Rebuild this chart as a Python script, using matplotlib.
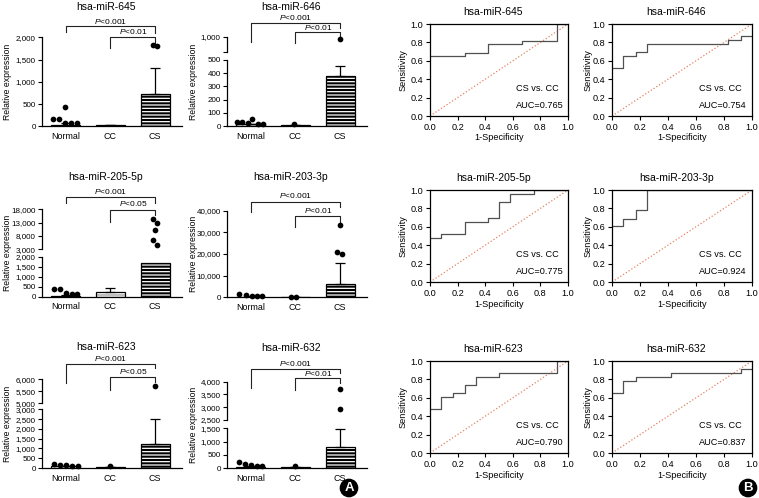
import numpy as np
import matplotlib
matplotlib.use('Agg')
import matplotlib.pyplot as plt
from matplotlib import transforms

plt.rcParams['font.family'] = ['Liberation Sans', 'DejaVu Sans']
plt.rcParams['mathtext.fontset'] = 'custom'
plt.rcParams['mathtext.rm'] = 'Liberation Sans'
plt.rcParams['mathtext.it'] = 'Liberation Sans:italic'
plt.rcParams['hatch.linewidth'] = 0.9

W, H = 759, 498

groups = ['Normal', 'CC', 'CS']

# ---- relative expression (bar = mean, err = upper SEM, dots = single samples)
mean_645 = [40, 25, 730]
err_645 = [25, 8, 570]
normal_645 = [172, 172, 442, 82, 67, 67]
normal_645_dx = [-0.29, -0.15, -0.02, -0.02, 0.11, 0.25]
cc_645 = []
cc_645_dx = []
cs_645 = [1820, 1813]
cs_645_dx = [-0.05, 0.05]

mean_646 = [15, 8, 380]
err_646 = [6, 3, 72]
normal_646 = [35, 33, 28, 52, 20, 18]
normal_646_dx = [-0.3, -0.19, -0.07, 0.04, 0.16, 0.27]
cc_646 = [20]
cc_646_dx = [-0.04]
cs_646 = [980]
cs_646_dx = [-0.01]

mean_205 = [60, 217, 1700]
err_205 = [20, 200, 0]
normal_205 = [383, 383, 167, 133, 117]
normal_205_dx = [-0.26, -0.13, 0.01, 0.13, 0.25]
cc_205 = []
cc_205_dx = []
cs_205 = [14250, 12750, 10250, 6500, 4625]
cs_205_dx = [-0.05, 0.05, 0.0, -0.05, 0.05]

mean_203 = [300, 150, 6150]
err_203 = [150, 50, 9850]
normal_203 = [1400, 1100, 460, 460, 460]
normal_203_dx = [-0.26, -0.11, 0.04, 0.14, 0.25]
cc_203 = [150, 150]
cc_203_dx = [-0.1, 0.01]
cs_203 = [33200, 21100, 20150]
cs_203_dx = [-0.01, -0.07, 0.04]

mean_623 = [80, 50, 1230]
err_623 = [20, 15, 1295]
normal_623 = [188, 170, 137, 120, 85]
normal_623_dx = [-0.27, -0.13, 0.0, 0.15, 0.27]
cc_623 = [100]
cc_623_dx = [0.0]
cs_623 = [5720]
cs_623_dx = [0.0]

mean_632 = [50, 30, 810]
err_632 = [25, 8, 655]
normal_632 = [240, 150, 113, 88, 76]
normal_632_dx = [-0.26, -0.13, 0.0, 0.13, 0.26]
cc_632 = [76]
cc_632_dx = [0.0]
cs_632 = [3700, 2920]
cs_632_dx = [-0.01, 0.0]

# y axis segments (broken axes): lower first
ticks_645 = [0, 500, 1000, 1500, 2000]
ticks_646_low = [0, 100, 200, 300, 400, 500]
ticks_646_up = [850, 1000]
labels_646_up = ['', '1,000']
ticks_205_low = [0, 500, 1000, 1500, 2000]
ticks_205_up = [3000, 8000, 13000, 18000]
ticks_203 = [0, 10000, 20000, 30000, 40000]
ticks_623_low = [0, 500, 1000, 1500, 2000, 2500, 3000]
ticks_623_up = [5000, 5500, 6000]
ticks_632_low = [0, 500, 1000, 1500]
ticks_632_up = [2500, 3000, 3500, 4000]

p_outer = ['$P$<0.001'] * 6
p_inner = ['$P$<0.01', '$P$<0.01', '$P$<0.05', '$P$<0.01', '$P$<0.05', '$P$<0.01']

# ---- ROC curves (CS vs. CC)
roc_ticks = [0.0, 0.2, 0.4, 0.6, 0.8, 1.0]
roc_tick_labels = ['0.0', '0.2', '0.4', '0.6', '0.8', '1.0']
fpr_645 = [0, 0.25, 0.42, 0.67, 0.92, 1.0]
tpr_645 = [0.65, 0.69, 0.78, 0.82, 1.0, 1.0]
fpr_646 = [0, 0.08, 0.17, 0.25, 0.83, 0.92, 1.0]
tpr_646 = [0.52, 0.65, 0.70, 0.78, 0.83, 0.87, 0.87]
fpr_205 = [0, 0.08, 0.25, 0.42, 0.50, 0.58, 0.75, 1.0]
tpr_205 = [0.48, 0.52, 0.65, 0.70, 0.87, 0.96, 1.0, 1.0]
fpr_203 = [0, 0.08, 0.17, 0.25, 1.0]
tpr_203 = [0.61, 0.69, 0.78, 1.0, 1.0]
fpr_623 = [0, 0.08, 0.17, 0.25, 0.33, 0.50, 0.92, 1.0]
tpr_623 = [0.48, 0.61, 0.65, 0.74, 0.83, 0.87, 1.0, 1.0]
fpr_632 = [0, 0.08, 0.17, 0.42, 0.92, 1.0]
tpr_632 = [0.65, 0.78, 0.83, 0.87, 0.91, 0.91]
auc_values = ['0.765', '0.754', '0.775', '0.924', '0.790', '0.837']

fig = plt.figure(figsize=(W / 100, H / 100), dpi=100)


def px_box(l, t, r, b):
    return [l / W, 1 - b / H, (r - l) / W, (b - t) / H]


def fy(py):
    return 1 - py / H


def bar_panel(title, left, right, segs, mean, err, dots, title_y, br):
    x = np.arange(3)
    axes = []
    for i, (ymin, ymax, ticks, labels, top, bot) in enumerate(segs):
        ax = fig.add_axes(px_box(left, top, right, bot))
        ax.set_facecolor('none')
        ax.set_xlim(-0.53, 2.6)
        ax.set_ylim(ymin, ymax)
        for s in ['top', 'right']:
            ax.spines[s].set_visible(False)
        ax.spines['left'].set_linewidth(0.9)
        ax.spines['bottom'].set_linewidth(0.9)
        if labels is None:
            labels = [f'{t:,}' for t in ticks]
        ax.set_yticks(ticks, labels)
        ax.tick_params(axis='y', length=3, width=0.8, labelsize=5.8, pad=1.5)
        if i == 0:
            ax.set_xticks(x, groups)
            ax.tick_params(axis='x', length=0, labelsize=6.4, pad=4)
        else:
            ax.spines['bottom'].set_visible(False)
            ax.set_xticks([])

        ax.bar(x[0], mean[0], 0.65, facecolor='white', edgecolor='black', lw=0.9)
        ax.bar(x[1], mean[1], 0.65, facecolor='white', edgecolor='#999999', hatch='-----', lw=0)
        ax.bar(x[1], mean[1], 0.65, fill=False, edgecolor='black', lw=0.9)
        ax.bar(x[2], mean[2], 0.65, facecolor='black', edgecolor='white', hatch='-----', lw=0)
        ax.bar(x[2], mean[2], 0.65, fill=False, edgecolor='black', lw=0.9)
        for k in range(3):
            if err[k] > 0:
                ax.errorbar(x[k], mean[k], yerr=[[0], [err[k]]], fmt='none', ecolor='black',
                            elinewidth=0.9, capsize=3.5, capthick=0.9)
        for k, (vals, dx) in enumerate(dots):
            xs = [x[k] + d for d, v in zip(dx, vals) if ymin <= v <= ymax]
            ys = [v for v in vals if ymin <= v <= ymax]
            ax.scatter(xs, ys, s=17, color='black', zorder=4, clip_on=False, linewidths=0)
        axes.append(ax)

    ax0 = axes[0]
    trans = transforms.blended_transform_factory(ax0.transData, fig.transFigure)
    ax0.text(0.9, fy(title_y), title, transform=trans, ha='center', va='center', fontsize=7.5)
    # significance brackets: (x0, x1, top, left leg, right leg, label, label y)
    for x0, x1, top, ll, rl, txt, ty in br:
        ax0.plot([x0, x0, x1, x1], [fy(ll), fy(top), fy(top), fy(rl)], transform=trans,
                 color='#222222', lw=0.8, clip_on=False)
        ax0.text((x0 + x1) / 2, fy(ty), txt, transform=trans, ha='center', va='center', fontsize=6)
    top_px = segs[-1][4]
    bot_px = segs[0][5]
    fig.text((left - 34) / W, fy((top_px + bot_px) / 2), 'Relative expression', rotation=90,
             ha='center', va='center', fontsize=6.2)


def roc_panel(title, left, right, top, bottom, fpr, tpr, auc, ylab_x):
    ax = fig.add_axes(px_box(left, top, right, bottom))
    ax.plot([0, 1], [0, 1], ls=':', color='#e3825f', lw=0.9)
    ax.plot(fpr, tpr, drawstyle='steps-post', color='#505050', lw=0.9)
    ax.set_xlim(0, 1)
    ax.set_ylim(0, 1)
    ax.set_xticks(roc_ticks, roc_tick_labels)
    ax.set_yticks(roc_ticks, roc_tick_labels)
    ax.tick_params(length=3, width=0.8, labelsize=6.6, pad=2)
    for s in ax.spines.values():
        s.set_linewidth(0.9)
    ax.text(0.62, 0.30, 'CS vs. CC', transform=ax.transAxes, ha='left', va='center', fontsize=6.6)
    ax.text(0.62, 0.115, 'AUC=' + auc, transform=ax.transAxes, ha='left', va='center', fontsize=6.6)
    ax.text(0.46, 1 + 12 / (bottom - top), title, transform=ax.transAxes, ha='center', va='center',
            fontsize=7.5)
    fig.text((left + right) / 2 / W, fy(bottom + 22), '1-Specificity', ha='center', va='center',
             fontsize=6.6)
    fig.text(ylab_x / W, fy((top + bottom) / 2), 'Sensitivity', rotation=90, ha='center',
             va='center', fontsize=6.6)


# ---- left block (A)
bar_panel('hsa-miR-645', 42, 182,
          [(0, 2000, ticks_645, None, 37.3, 126.3)],
          mean_645, err_645,
          [(normal_645, normal_645_dx), (cc_645, cc_645_dx), (cs_645, cs_645_dx)], 7,
          [(0, 2, 26, 32, 33, p_outer[0], 21), (1, 2, 37, 48, 43, p_inner[0], 31.5)])
bar_panel('hsa-miR-646', 227, 367,
          [(0, 500, ticks_646_low, None, 59.7, 126.3), (850, 1000, ticks_646_up, labels_646_up, 36.7, 52.3)],
          mean_646, err_646,
          [(normal_646, normal_646_dx), (cc_646, cc_646_dx), (cs_646, cs_646_dx)], 7,
          [(0, 2, 23, 42, 28, p_outer[1], 17), (1, 2, 32, 43, 38, p_inner[1], 27.5)])
bar_panel('hsa-miR-205-5p', 42, 182,
          [(0, 2000, ticks_205_low, None, 256.7, 296.7), (3000, 18000, ticks_205_up, None, 209.3, 249.3)],
          mean_205, err_205,
          [(normal_205, normal_205_dx), (cc_205, cc_205_dx), (cs_205, cs_205_dx)], 177,
          [(0, 2, 197, 203, 203, p_outer[2], 191), (1, 2, 210, 222, 215, p_inner[2], 204)])
bar_panel('hsa-miR-203-3p', 227, 367,
          [(0, 40000, ticks_203, None, 210.7, 297.3)],
          mean_203, err_203,
          [(normal_203, normal_203_dx), (cc_203, cc_203_dx), (cs_203, cs_203_dx)], 177,
          [(0, 2, 202, 212, 207, p_outer[3], 196), (1, 2, 216, 227, 222, p_inner[3], 210)])
bar_panel('hsa-miR-623', 42, 182,
          [(0, 3000, ticks_623_low, None, 409.3, 468), (5000, 6000, ticks_623_up, None, 379.3, 403.3)],
          mean_623, err_623,
          [(normal_623, normal_623_dx), (cc_623, cc_623_dx), (cs_623, cs_623_dx)], 347,
          [(0, 2, 364, 383, 368, p_outer[4], 358.5), (1, 2, 377, 390, 382, p_inner[4], 372)])
bar_panel('hsa-miR-632', 227, 367,
          [(0, 1500, ticks_632_low, None, 428.3, 468), (2500, 4000, ticks_632_up, None, 381.7, 420)],
          mean_632, err_632,
          [(normal_632, normal_632_dx), (cc_632, cc_632_dx), (cs_632, cs_632_dx)], 348,
          [(0, 2, 369, 388, 373, p_outer[5], 363.5), (1, 2, 378, 390, 383, p_inner[5], 373.5)])

# ---- right block (B)
roc_panel('hsa-miR-645', 430, 568, 24, 116, fpr_645, tpr_645, auc_values[0], 403)
roc_panel('hsa-miR-646', 612, 752, 24, 116, fpr_646, tpr_646, auc_values[1], 588)
roc_panel('hsa-miR-205-5p', 430, 568, 190, 282, fpr_205, tpr_205, auc_values[2], 403)
roc_panel('hsa-miR-203-3p', 612, 752, 190, 282, fpr_203, tpr_203, auc_values[3], 588)
roc_panel('hsa-miR-623', 430, 568, 361, 453, fpr_623, tpr_623, auc_values[4], 403)
roc_panel('hsa-miR-632', 612, 752, 361, 453, fpr_632, tpr_632, auc_values[5], 588)

# panel letters
for lx, letter in [(349, 'A'), (748, 'B')]:
    fig.text(lx / W, fy(488), letter, ha='center', va='center', color='white', fontsize=9.5,
             fontweight='bold', bbox=dict(boxstyle='circle,pad=0.2', fc='black', ec='black'))

fig.savefig('out.png', dpi=100)
